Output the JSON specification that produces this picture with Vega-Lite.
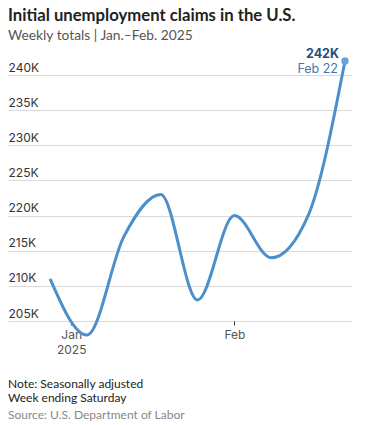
{
  "$schema": "https://vega.github.io/schema/vega-lite/v6.json",
  "background": "white",
  "padding": {"left": 8, "right": 13, "top": 7, "bottom": 2},
  "config": {
    "font": "Inter",
    "view": {"stroke": null},
    "concat": {"spacing": 0}
  },
  "title": {
    "text": ["Note: Seasonally adjusted", "Week ending Saturday"],
    "subtitle": "Source: U.S. Department of Labor",
    "orient": "bottom",
    "anchor": "start",
    "frame": "group",
    "font": "Lato",
    "fontSize": 12,
    "fontWeight": "normal",
    "color": "#222222",
    "lineHeight": 14,
    "subtitleFont": "Lato",
    "subtitleFontSize": 12,
    "subtitleColor": "#888888",
    "subtitlePadding": 5,
    "offset": 24
  },
  "vconcat": [
    {
      "width": 344,
      "height": 260,
      "title": {
        "text": "Initial unemployment claims in the U.S.",
        "subtitle": "Weekly totals | Jan.–Feb. 2025",
        "anchor": "start",
        "frame": "group",
        "font": "Lato",
        "fontSize": 16.7,
        "fontWeight": "bold",
        "color": "#222222",
        "subtitleFont": "Lato",
        "subtitleFontSize": 13.8,
        "subtitleColor": "#555555",
        "subtitlePadding": 5,
        "offset": 5
      },
      "data": {
        "values": [
          {"date": "2024-12-28T00:00:00", "claims": 211},
          {"date": "2025-01-04T00:00:00", "claims": 203},
          {"date": "2025-01-11T00:00:00", "claims": 217},
          {"date": "2025-01-18T00:00:00", "claims": 223},
          {"date": "2025-01-25T00:00:00", "claims": 208},
          {"date": "2025-02-01T00:00:00", "claims": 220},
          {"date": "2025-02-08T00:00:00", "claims": 214},
          {"date": "2025-02-15T00:00:00", "claims": 220},
          {"date": "2025-02-22T00:00:00", "claims": 242}
        ]
      },
      "encoding": {
        "x": {
          "field": "date",
          "type": "temporal",
          "scale": {
            "domain": [
              {"year": 2024, "month": 12, "date": 20},
              {"year": 2025, "month": 2, "date": 23, "hours": 8}
            ]
          },
          "axis": {
            "title": null,
            "grid": false,
            "domain": false,
            "values": [
              {"year": 2025, "month": 1, "date": 1},
              {"year": 2025, "month": 2, "date": 1}
            ],
            "labelExpr": "month(datum.value) == 0 ? ['Jan', '2025'] : 'Feb'",
            "labelFontSize": 12,
            "labelColor": "#555555",
            "labelPadding": 4,
            "labelLineHeight": 15,
            "tickSize": 4,
            "tickColor": "#333333"
          }
        },
        "y": {
          "field": "claims",
          "type": "quantitative",
          "scale": {"domain": [205, 242], "nice": false, "zero": false},
          "axis": {
            "title": null,
            "values": [205, 210, 215, 220, 225, 230, 235, 240],
            "labelExpr": "datum.value + 'K'",
            "domain": false,
            "ticks": false,
            "labelAlign": "left",
            "labelBaseline": "alphabetic",
            "labelPadding": 0,
            "labelOffset": -4,
            "labelFontSize": 12,
            "labelColor": "#333333",
            "gridColor": "#d9d9d9",
            "gridWidth": 1
          }
        }
      },
      "layer": [
        {
          "mark": {"type": "line", "interpolate": "monotone", "color": "#4d8fcb", "strokeWidth": 3}
        },
        {
          "transform": [{"filter": "datum.claims == 242"}],
          "mark": {"type": "point", "filled": true, "size": 55, "color": "#6aa3d8", "opacity": 1}
        },
        {
          "transform": [{"filter": "datum.claims == 242"}],
          "mark": {"type": "text", "align": "right", "baseline": "bottom", "dx": -6, "dy": 0, "fontWeight": "bold", "fontSize": 12.5, "color": "#1f4f7f"},
          "encoding": {"text": {"value": "242K"}}
        },
        {
          "transform": [{"filter": "datum.claims == 242"}],
          "mark": {"type": "text", "align": "right", "baseline": "bottom", "dx": -7, "dy": 15, "fontSize": 12.5, "color": "#3f78b0"},
          "encoding": {"text": {"value": "Feb 22"}}
        }
      ]
    }
  ]
}
